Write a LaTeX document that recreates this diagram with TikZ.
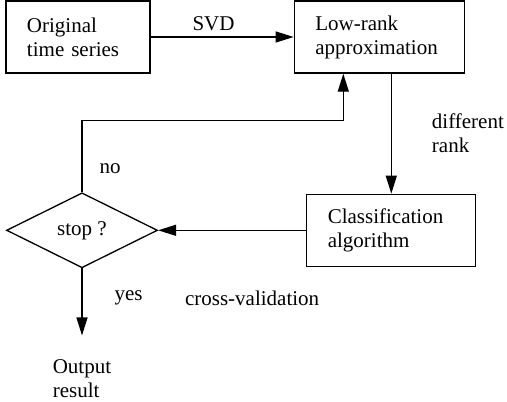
\documentclass[tikz,border=0pt]{standalone}
\usepackage{fontspec}
\setmainfont{Liberation Serif}
\usetikzlibrary{arrows.meta,positioning,shapes.geometric,calc}

\begin{document}
\begin{tikzpicture}[>={Triangle[length=18pt,width=11pt]},line width=1.3pt,font=\fontsize{21}{24}\selectfont]
  \tikzstyle{block}=[draw,align=left,inner xsep=21pt,minimum height=72pt]
  \tikzstyle{lbl}=[align=left,inner sep=3pt]
  \useasboundingbox (0,0) rectangle (507pt,-402pt);
  \node[block,text width=102pt] (orig) at (78pt,-37pt) {Original\\time series};
  \node[block,text width=128pt,right=143pt of orig] (lowrank) {Low-rank\\approximation};
  \node[block,text width=127pt,below=120pt of lowrank,xshift=12pt] (classif) {Classification\\algorithm};
  \node[draw,diamond,aspect=2,minimum width=151pt,minimum height=75pt,inner sep=0pt,left=148pt of classif] (stop) {stop ?};
  \node[lbl,below=87pt of stop] (out) {Output\\result};
  \coordinate[above=72pt of stop.north] (turn);
  \draw[->] (orig) -- node[lbl,pos=0.44,above=3pt] (svd) {SVD} (lowrank);
  \draw[->] (lowrank.south -| classif.north) -- node[lbl,right=37pt] (diff) {different\\rank} (classif.north);
  \draw[->] (classif) -- node[lbl,below=57pt,xshift=20pt] (cv) {cross-validation} (stop);
  \draw[->] (stop.north) -- node[lbl,pos=0.33,right=14pt] (no) {no} (turn) -| ([xshift=-36pt]lowrank.south);
  \draw[->,shorten >=20pt] (stop.south) -- node[lbl,pos=0.34,right=29pt] (yes) {yes} (out.north);
\end{tikzpicture}
\end{document}
